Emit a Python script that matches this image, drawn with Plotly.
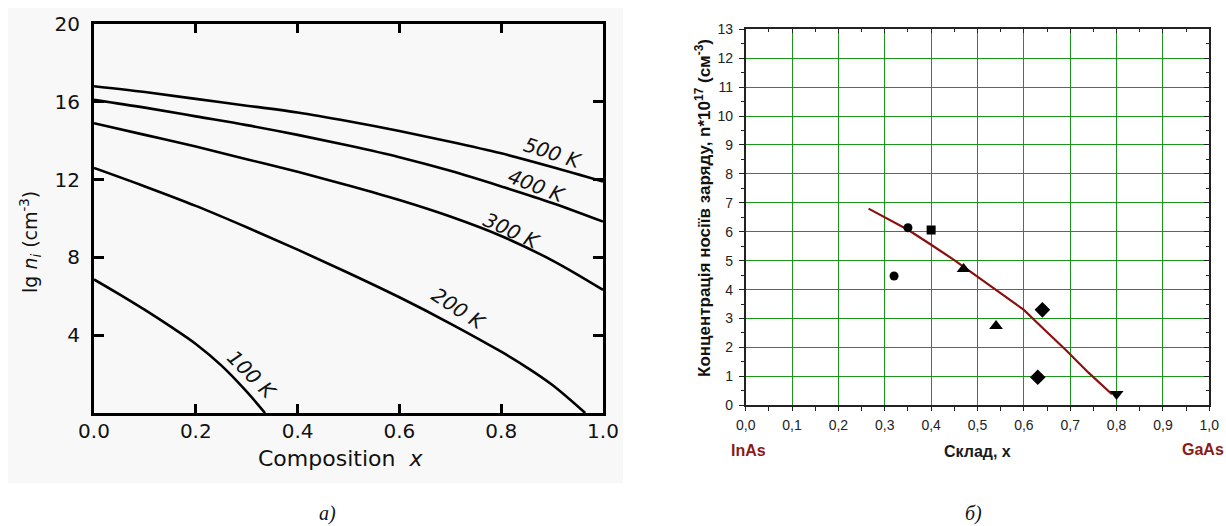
import plotly.graph_objects as go

W, H = 1226, 526

# ---------------- Left panel data: lg n_i vs composition ----------------
x_grid = [0.0, 0.1, 0.2, 0.3, 0.4, 0.5, 0.6, 0.7, 0.8, 0.9, 1.0]
n500 = [16.8, 16.5, 16.15, 15.8, 15.45, 15.0, 14.5, 13.95, 13.35, 12.65, 11.9]
n400 = [16.1, 15.7, 15.25, 14.8, 14.3, 13.75, 13.15, 12.45, 11.65, 10.8, 9.84]
n300 = [14.9, 14.3, 13.7, 13.05, 12.4, 11.7, 10.95, 10.1, 9.1, 7.85, 6.33]
x200 = [0.0, 0.1, 0.2, 0.3, 0.4, 0.5, 0.6, 0.7, 0.8, 0.85, 0.9, 0.965]
n200 = [12.6, 11.65, 10.65, 9.55, 8.4, 7.2, 5.95, 4.6, 3.15, 2.35, 1.45, 0.0]
x100 = [0.0, 0.05, 0.1, 0.15, 0.2, 0.25, 0.3, 0.336]
n100 = [6.87, 6.1, 5.3, 4.45, 3.55, 2.45, 1.1, 0.0]
left_xticks = [0.0, 0.2, 0.4, 0.6, 0.8, 1.0]
left_xlabels = ["0.0", "0.2", "0.4", "0.6", "0.8", "1.0"]
left_yticks = [4, 8, 12, 16, 20]

# ---------------- Right panel data: concentration vs composition ----------------
fit_x = [0.265, 0.35, 0.40, 0.45, 0.53, 0.60, 0.64, 0.69, 0.74, 0.79]
fit_y = [6.8, 6.07, 5.55, 5.02, 4.1, 3.3, 2.68, 1.92, 1.12, 0.38]
circ_x, circ_y = [0.32, 0.35], [4.47, 6.14]
sq_x, sq_y = [0.40], [6.06]
tri_x, tri_y = [0.47, 0.54], [4.71, 2.74]
dia_x, dia_y = [0.64, 0.63], [3.30, 0.97]
tdn_x, tdn_y = [0.80], [0.39]
right_xticks = [0.0, 0.1, 0.2, 0.3, 0.4, 0.5, 0.6, 0.7, 0.8, 0.9, 1.0]
right_xlabels = ["0,0", "0,1", "0,2", "0,3", "0,4", "0,5", "0,6", "0,7", "0,8", "0,9", "1,0"]
right_yticks = list(range(0, 14))


def px(x):
    return x / W


def py(y):
    return 1 - y / H


fig = go.Figure()

curve_style = dict(color="black", width=2.6, shape="spline", smoothing=1.0)
for xs, ys in [(x_grid, n500), (x_grid, n400), (x_grid, n300), (x200, n200), (x100, n100)]:
    fig.add_trace(go.Scatter(x=xs, y=ys, mode="lines", line=curve_style,
                             xaxis="x", yaxis="y", showlegend=False, hoverinfo="skip"))

# right panel
fig.add_trace(go.Scatter(x=fit_x, y=fit_y, mode="lines",
                         line=dict(color="#8b1111", width=2.2),
                         xaxis="x2", yaxis="y2", showlegend=False))
for xs, ys, sym, sz in [(circ_x, circ_y, "circle", 9), (sq_x, sq_y, "square", 9),
                        (tri_x, tri_y, "triangle-up", 12), (dia_x, dia_y, "diamond", 12),
                        (tdn_x, tdn_y, "triangle-down", 12)]:
    fig.add_trace(go.Scatter(x=xs, y=ys, mode="markers",
                             marker=dict(symbol=sym, size=sz, color="black"),
                             xaxis="x2", yaxis="y2", showlegend=False))

# dummy trace to activate overlay axes (top / right inner ticks of right panel)
fig.add_trace(go.Scatter(x=[None], y=[None], xaxis="x3", yaxis="y3", showlegend=False))

lfont = dict(family="DejaVu Sans", size=20, color="#111")
rfont = dict(family="Liberation Sans", size=14, color="#222")

fig.update_layout(
    width=W, height=H,
    margin=dict(l=0, r=0, t=0, b=0, autoexpand=False),
    paper_bgcolor="white",
    plot_bgcolor="rgba(0,0,0,0)",
    xaxis=dict(domain=[px(94), px(603)], range=[0, 1], anchor="y", automargin=False,
               tickvals=left_xticks, ticktext=left_xlabels,
               ticks="inside", ticklen=9, tickwidth=2.5, tickcolor="black",
               showline=True, linewidth=3, linecolor="black", mirror="ticks",
               showgrid=False, zeroline=False, tickfont=lfont, ticklabelstandoff=-2),
    yaxis=dict(domain=[py(413), py(24)], range=[0, 20], anchor="x", automargin=False,
               tickvals=left_yticks,
               ticks="inside", ticklen=10, tickwidth=2.5, tickcolor="black",
               showline=True, linewidth=3, linecolor="black", mirror="ticks",
               showgrid=False, zeroline=False, tickfont=lfont, ticklabelstandoff=7),
    xaxis2=dict(domain=[px(745.7), px(1209.3)], range=[0, 1], anchor="y2", automargin=False,
                tickvals=right_xticks, ticktext=right_xlabels,
                ticks="outside", ticklen=4, tickcolor="#222",
                minor=dict(ticks="outside", ticklen=4, dtick=0.05, tick0=0, tickcolor="#222", showgrid=False),
                showline=True, linewidth=1.5, linecolor="#222", mirror=True,
                showgrid=True, gridcolor="#1a961a", gridwidth=1,
                zeroline=False, tickfont=rfont, ticklabelstandoff=2),
    yaxis2=dict(domain=[py(405.3), py(29.3)], range=[0, 13], anchor="x2", automargin=False,
                tickvals=right_yticks,
                ticks="outside", ticklen=5, tickcolor="#222",
                minor=dict(ticks="outside", ticklen=3, dtick=0.5, tick0=0, tickcolor="#222", showgrid=False),
                showline=True, linewidth=1.5, linecolor="#222", mirror=True,
                showgrid=True, gridcolor="#1a961a", gridwidth=1,
                zeroline=False, tickfont=rfont, ticklabelstandoff=3),
    xaxis3=dict(domain=[px(745.7), px(1209.3)], range=[0, 1], anchor="y2", overlaying="x2",
                automargin=False,
                side="top", ticks="inside", ticklen=4, dtick=0.1, tick0=0, tickcolor="#222",
                minor=dict(ticks="inside", ticklen=3, dtick=0.05, tick0=0, tickcolor="#222"),
                showticklabels=False, showgrid=False, zeroline=False, showline=False),
    yaxis3=dict(domain=[py(405.3), py(29.3)], range=[0, 13], anchor="x2", overlaying="y2",
                automargin=False,
                side="right", ticks="inside", ticklen=5, dtick=1, tick0=0, tickcolor="#222",
                minor=dict(ticks="inside", ticklen=3, dtick=0.5, tick0=0, tickcolor="#222"),
                showticklabels=False, showgrid=False, zeroline=False, showline=False),
    shapes=[dict(type="rect", xref="paper", yref="paper",
                 x0=px(8), x1=px(623), y0=py(483), y1=py(8),
                 fillcolor="#f8f8f8", line=dict(width=0), layer="below")],
)

ann = []
kfont = dict(family="DejaVu Sans", size=20, color="#111", style="italic")
for txt, cx, cy, ang in [("500 K", 553, 153, 18), ("400 K", 537, 186, 21),
                         ("300 K", 512, 231, 25), ("200 K", 459, 309, 33),
                         ("100 K", 252, 375, 45)]:
    ann.append(dict(text=txt, x=px(cx), y=py(cy), xref="paper", yref="paper",
                    xanchor="center", yanchor="middle", showarrow=False,
                    textangle=ang, font=kfont))

ann.append(dict(text="Composition  <i>x</i>", x=px(340), y=py(458), xref="paper", yref="paper",
                xanchor="center", yanchor="middle", showarrow=False,
                font=dict(family="DejaVu Sans", size=22, color="#111")))
ann.append(dict(text="lg <i>n<sub>i</sub></i> (cm<sup>-3</sup>)", x=px(30), y=py(242),
                xref="paper", yref="paper", xanchor="center", yanchor="middle",
                showarrow=False, textangle=-90,
                font=dict(family="DejaVu Sans", size=19, color="#111")))

ann.append(dict(text="<b>Концентрація носіїв заряду, n*10<sup>17</sup> (см<sup>-3</sup>)</b>",
                x=px(703), y=py(208), xref="paper", yref="paper",
                xanchor="center", yanchor="middle", showarrow=False, textangle=-90,
                font=dict(family="Liberation Sans", size=17, color="#111")))
ann.append(dict(text="<b>Склад, x</b>", x=px(977), y=py(451), xref="paper", yref="paper",
                xanchor="center", yanchor="middle", showarrow=False,
                font=dict(family="Liberation Sans", size=16, color="#1a1a1a")))
ann.append(dict(text="<b>InAs</b>", x=px(749), y=py(450), xref="paper", yref="paper",
                xanchor="center", yanchor="middle", showarrow=False,
                font=dict(family="Liberation Sans", size=16, color="#8b1a1a")))
ann.append(dict(text="<b>GaAs</b>", x=px(1203), y=py(449), xref="paper", yref="paper",
                xanchor="center", yanchor="middle", showarrow=False,
                font=dict(family="Liberation Sans", size=16, color="#8b1a1a")))

sfont = dict(family="Liberation Serif", size=20, color="#111", style="italic")
ann.append(dict(text="а)", x=px(327), y=py(513), xref="paper", yref="paper",
                xanchor="center", yanchor="middle", showarrow=False, font=sfont))
ann.append(dict(text="б)", x=px(973), y=py(513), xref="paper", yref="paper",
                xanchor="center", yanchor="middle", showarrow=False, font=sfont))

fig.update_layout(annotations=ann)
fig.write_html("out.html")
